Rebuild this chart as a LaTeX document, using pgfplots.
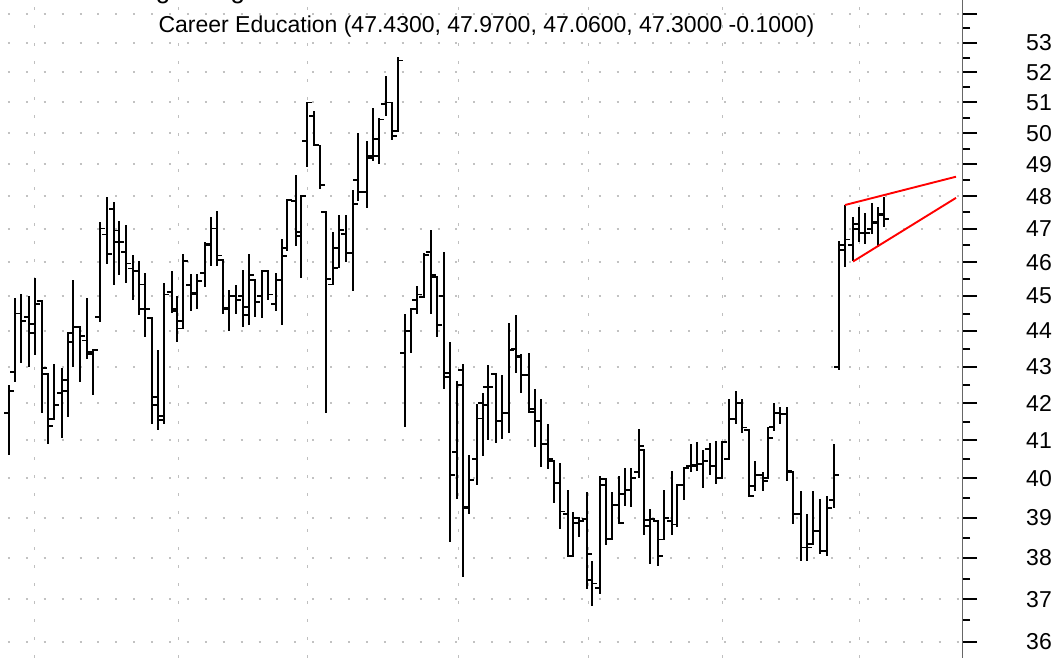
\documentclass[border=0pt]{standalone}
\usepackage{pgfplots}
\pgfplotsset{compat=1.18}
\usepackage{pgfplotstable}
\usepackage{fontspec}
\setmainfont{Liberation Sans}

\pgfdeclareplotmark{otick}{\pgfpathmoveto{\pgfpoint{-5bp}{0pt}}\pgfpathlineto{\pgfpoint{0.9bp}{0pt}}\pgfusepathqstroke}
\pgfdeclareplotmark{ctick}{\pgfpathmoveto{\pgfpoint{-0.9bp}{0pt}}\pgfpathlineto{\pgfpoint{5bp}{0pt}}\pgfusepathqstroke}

\pgfplotstableread{
x o h l c
9 41.74 42.48 40.60 42.33
15 42.85 44.95 42.57 44.50
21 44.50 45.07 43.10 44.29
29 44.40 45.02 42.98 44.19
35 43.95 45.54 43.32 44.78
42 44.86 44.88 41.73 42.95
48 42.80 42.80 40.90 41.37
54 41.57 43.08 41.57 41.95
62 42.27 42.96 41.05 42.64
68 42.33 43.97 41.62 43.95
73 43.68 45.47 42.98 44.12
80 44.12 44.12 42.57 43.85
87 43.73 44.95 43.22 43.34
93 43.40 43.47 42.21 43.45
100 44.40 47.20 44.27 47.01
107 46.83 47.97 45.96 46.25
114 47.60 47.83 45.32 46.60
119 46.95 47.25 45.62 46.60
126 46.30 47.13 45.38 45.96
133 45.81 46.20 44.89 45.74
139 45.74 46.03 44.45 44.62
145 45.34 45.69 43.84 44.62
152 44.36 44.38 41.42 41.95
158 42.16 43.45 41.27 41.55
164 41.64 45.38 41.42 45.05
172 45.12 45.74 44.52 44.62
177 44.57 45.02 43.68 44.29
183 44.07 46.25 44.07 46.03
191 45.32 45.64 44.57 45.05
197 45.10 45.64 44.62 45.44
205 45.69 46.60 45.27 46.50
211 46.53 47.37 45.90 47.01
217 47.01 47.54 45.90 46.20
223 46.07 46.10 44.50 44.67
229 44.64 45.17 44.00 45.00
236 45.00 45.33 44.50 44.90
243 45.00 45.78 44.12 44.69
249 44.45 46.23 44.16 45.62
255 45.48 45.50 44.41 44.84
262 45.00 45.74 44.38 45.74
268 45.74 45.74 44.89 45.05
276 44.78 45.67 44.57 45.46
282 45.48 46.68 44.16 46.17
287 46.43 47.88 46.33 47.88
296 47.86 48.66 46.48 46.78
301 46.90 48.00 45.53 48.00
307 49.74 51.02 48.92 51.00
314 50.55 50.73 49.60 49.62
320 49.60 49.62 48.22 48.34
326 47.51 47.53 41.73 45.50
333 45.34 46.90 45.32 45.83
339 46.43 47.43 45.83 46.96
346 46.85 47.41 46.00 46.28
353 46.28 48.19 45.16 47.76
358 48.52 50.00 47.86 48.14
367 48.14 49.76 47.63 49.20
373 49.26 50.83 49.10 49.82
379 49.27 50.48 49.00 50.44
386 50.95 51.88 50.54 51.00
392 51.00 51.00 49.78 49.90
398 50.06 52.52 50.04 52.40
405 43.38 44.50 41.34 44.00
411 44.00 44.67 43.38 44.62
417 44.88 45.29 44.50 45.05
424 44.98 46.27 44.95 46.22
431 46.30 46.96 44.50 45.63
437 45.56 45.56 43.84 44.17
444 45.00 46.30 42.38 42.72
450 42.81 43.70 38.40 40.10
457 40.70 42.61 39.47 42.50
463 42.90 43.06 37.54 39.28
469 39.26 40.60 39.10 39.97
477 40.50 41.97 39.84 41.58
483 42.00 42.28 40.58 41.94
488 42.44 43.03 41.00 42.44
496 42.80 42.82 40.93 41.52
502 41.52 42.76 41.04 41.72
509 41.72 44.24 41.20 43.46
516 43.50 44.46 42.81 43.26
521 43.30 43.34 42.27 42.76
529 42.76 43.39 41.73 41.76
535 41.83 42.38 40.83 41.52
541 41.52 42.12 40.29 40.91
548 40.90 41.43 40.25 40.50
554 40.45 40.48 39.37 39.89
560 39.88 40.40 38.72 39.16
568 39.10 39.70 38.05 38.05
573 38.05 39.16 38.05 38.88
579 38.99 39.00 38.52 38.92
587 38.98 39.65 37.25 38.10
592 37.47 37.92 36.83 37.38
600 37.28 40.06 37.13 39.85
606 39.99 40.02 38.33 38.48
612 38.48 39.65 38.48 39.32
619 39.32 40.06 38.85 38.88
625 39.60 40.26 39.30 39.70
631 39.70 40.26 39.28 40.02
639 40.16 41.31 40.02 40.84
644 40.74 40.76 38.57 38.79
650 38.95 39.22 37.86 38.96
658 38.92 38.92 37.81 38.05
664 38.46 39.70 38.46 39.00
672 38.93 40.20 38.58 38.83
677 38.83 39.86 38.77 39.85
684 39.85 40.26 39.45 40.26
691 40.33 40.90 40.16 40.33
697 40.35 40.95 40.20 40.38
703 40.38 40.73 39.76 40.46
710 40.76 40.93 40.08 40.33
716 40.31 40.99 39.86 40.02
722 40.02 40.97 40.02 40.96
729 40.50 42.10 40.50 41.57
736 41.57 42.34 41.44 41.99
742 41.99 42.10 41.20 41.34
749 41.27 41.27 39.52 39.55
755 39.82 40.46 39.69 40.08
763 40.08 40.16 39.69 39.95
768 40.00 41.36 40.00 41.06
774 41.36 42.00 41.25 41.74
780 41.74 41.90 41.44 41.70
787 41.70 41.90 39.95 40.20
793 40.16 40.16 38.84 39.10
801 39.10 39.68 37.93 38.26
807 38.26 39.10 37.94 38.26
813 38.35 39.68 38.33 38.68
820 38.68 39.48 38.10 38.18
827 38.18 39.56 38.05 39.26
834 39.45 40.91 39.26 40.10
839 43.00 46.62 42.90 46.50
845 46.35 47.73 45.85 46.68
853 46.50 47.37 46.04 46.99
859 47.15 47.68 46.60 46.87
865 46.87 47.48 46.55 46.87
872 47.00 47.78 46.83 47.20
878 47.17 47.68 46.45 47.46
884 47.43 47.97 47.06 47.30
}\ohlc

\begin{document}
\begin{tikzpicture}
\path[use as bounding box] (0,0) rectangle (1061bp,658bp);
\begin{axis}[
  at={(0,0)}, anchor=south west,
  width=962bp, height=658bp, scale only axis,
  xmin=0, xmax=962,
  ymode=log, ymin=35.623, ymax=54.493,
  axis x line=bottom, x axis line style={draw=none},
  axis y line=right, y axis line style={-, line width=0.8bp, black!60},
  xtick={34,178,307,458,588,722,859}, xticklabels={}, x tick style={draw=none},
  xmajorgrids, ymajorgrids,
  major x grid style={line width=1bp, color=black!25, dash pattern=on 3bp off 15bp},
  major y grid style={line width=2bp, color=black!24, dash pattern=on 2bp off 15.9bp, dash phase=10bp},
  ytick={36,37,38,39,40,41,42,43,44,45,46,47,48,49,50,51,52,53,54},
  yticklabels={36,37,38,39,40,41,42,43,44,45,46,47,48,49,50,51,52,53,{}},
  minor ytick={36.5,37.5,38.5,39.5,40.5,41.5,42.5,43.5,44.5,45.5,46.5,47.5,48.5,49.5,50.5,51.5,52.5,53.5,54.5},
  tick align=outside,
  major tick length=15bp, minor tick length=8bp,
  y tick style={line width=2bp, black},
  yticklabel style={anchor=west, inner sep=0pt, xshift=49bp, font=\fontsize{23bp}{26bp}\selectfont},
]
\addplot[draw=none, mark=none,
  error bars/.cd, y dir=both, y explicit, error mark=none,
  error bar style={line width=2bp, black}]
  table[x=x, y=c, y error plus expr=\thisrow{h}-\thisrow{c}, y error minus expr=\thisrow{c}-\thisrow{l}] {\ohlc};
\addplot[only marks, mark=otick, mark options={line width=1.9bp, black}] table[x=x, y=o] {\ohlc};
\addplot[only marks, mark=ctick, mark options={line width=1.9bp, black}] table[x=x, y=c] {\ohlc};
\addplot[red, line width=1.9bp] coordinates {(845,47.73) (956,48.61)};
\addplot[red, line width=1.9bp] coordinates {(853,46.02) (956,47.95)};
\end{axis}
\node[anchor=base, inner sep=0pt, font=\fontsize{23bp}{26bp}\selectfont] at (486.5bp,625.5bp) {Career Education (47.4300, 47.9700, 47.0600, 47.3000 -0.1000)};
\node[anchor=base west, inner sep=0pt, font=\fontsize{26bp}{30bp}\selectfont] at (98bp,659bp) {Rising Wedge};
\end{tikzpicture}
\end{document}
